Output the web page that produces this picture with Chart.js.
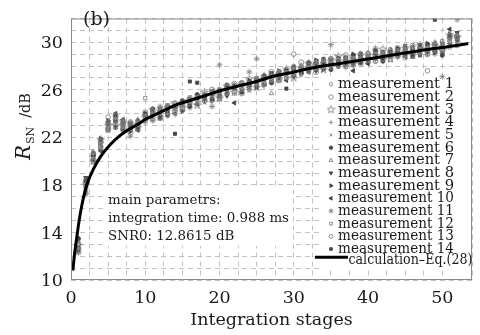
<!DOCTYPE html>
<html>
<head>
<meta charset="utf-8">
<script src="https://cdn.jsdelivr.net/npm/chart.js@4.4.1/dist/chart.umd.min.js"></script>
<style>
    html, body { margin: 0; padding: 0; background: #fff; }
</style>
</head>
<body>
<canvas id="snr-chart" width="480" height="335"></canvas>
<script>
const stages = [1,2,3,4,5,6,7,8,9,10,11,12,13,14,15,16,17,18,19,20,21,22,23,24,25,26,
    27,28,29,30,31,32,33,34,35,36,37,38,39,40,41,42,43,44,45,46,47,48,49,50,51,52];

const meas1 = [13.1,17.6,20.7,21.2,23.3,23.4,22.6,22.9,23.4,23.4, 24.2,24.1,23.8,24.5,25.1,24.8,25.4,25.0,25.6,26.0,
    25.7,26.1,26.6,26.0,26.7,27.0,26.8,27.5,27.0,28.0, 27.7,27.5,28.1,28.5,27.9,28.5,27.9,28.5,29.1,28.8,
    28.4,29.2,29.0,28.8,29.6,29.4,29.1,29.5,29.0,29.8, 30.1,29.7];
const meas2 = [12.4,18.3,20.1,21.6,22.7,23.8,23.1,22.4,23.1,24.1, 23.6,24.2,24.6,24.2,24.3,25.3,25.3,25.1,26.0,25.5,
    26.2,26.5,25.7,26.4,26.9,26.5,27.5,26.8,27.4,27.5, 28.3,28.0,27.5,28.3,28.6,28.1,28.9,28.6,28.2,29.0,
    29.3,28.6,29.2,29.5,29.0,29.7,29.4,29.0,29.8,29.6, 30.5,30.5];
const meas3 = [12.9,18.0,20.0,21.8,23.0,23.0,23.3,23.1,22.8,23.7, 24.3,23.7,24.5,24.8,24.5,25.1,24.7,25.8,25.5,25.3,
    26.3,25.8,26.3,26.9,26.2,27.1,27.0,26.9,27.7,27.0, 27.8,28.2,28.0,27.7,28.4,28.8,28.4,28.2,28.9,28.5,
    28.9,29.4,28.6,29.1,29.5,28.9,29.7,29.4,29.7,29.3, 30.6,30.4];
const meas4 = [12.6,17.3,20.6,21.0,22.9,23.6,22.8,23.3,23.2,23.2, 24.0,24.5,24.0,23.9,24.9,25.0,25.0,25.6,25.0,25.8,
    26.0,25.7,26.5,26.5,26.4,26.3,27.2,27.3,27.1,27.8, 27.3,27.9,28.4,27.8,28.0,28.6,28.5,28.0,28.6,28.9,
    28.5,28.9,29.4,28.7,29.3,29.5,29.0,29.6,29.3,30.0, 29.7,30.6];
const meas5 = [13.2,17.9,20.2,21.5,22.5,23.1,23.4,22.6,23.3,23.8, 23.7,23.9,24.7,24.4,24.4,25.4,25.4,24.9,25.7,26.1,
    25.6,26.3,26.0,25.9,27.0,26.8,26.7,27.6,27.5,27.2, 28.0,27.7,27.7,28.4,28.3,27.9,28.8,28.7,28.4,28.4,
    29.1,29.1,28.7,29.4,28.8,29.2,29.5,28.9,29.9,29.7, 29.9,30.0];
const meas6 = [12.7,18.4,20.5,20.9,23.2,23.3,22.7,23.0,22.7,23.9, 24.4,23.6,24.3,24.6,25.0,24.6,25.6,25.4,25.2,25.9,
    26.4,26.1,25.8,26.7,26.6,27.2,26.6,27.2,27.6,27.7, 27.5,28.3,28.2,28.1,27.7,28.4,28.7,28.9,28.3,28.7,
    29.2,28.4,29.1,29.3,29.2,28.8,29.6,29.8,29.2,28.9, 30.4,30.3];
const meas7 = [13.0,17.5,20.8,21.4,22.6,23.5,23.0,22.7,23.5,23.5, 23.5,24.3,24.4,24.1,24.7,25.2,24.9,25.5,25.8,25.2,
    26.1,26.4,26.2,26.1,26.8,26.6,25.7,27.5,27.0,27.6, 28.1,27.6,28.3,27.9,28.4,28.3,28.1,28.8,28.7,29.1,
    28.6,29.0,28.5,29.2,29.4,29.6,29.1,29.5,30.0,29.4, 30.2,29.8];
const meas8 = [13.4,18.6,20.4,21.7,23.1,22.9,23.1,23.2,22.9,23.8, 23.8,24.4,23.9,24.7,24.8,24.7,25.2,25.2,25.6,25.7,
    25.5,26.2,26.4,26.4,26.3,26.9,27.3,27.0,27.3,27.1, 27.8,28.1,27.6,28.2,28.5,28.0,28.4,28.1,28.8,28.8,
    28.6,29.2,29.1,28.9,28.9,29.3,29.8,29.2,29.5,29.9, 29.8,30.8];
const meas9 = [12.5,18.1,20.7,21.9,23.4,23.7,23.2,22.5,23.2,24.0, 24.1,23.8,24.6,24.5,24.2,25.2,25.5,25.5,25.1,26.0,
    25.8,26.3,25.9,26.8,26.7,26.4,27.1,27.6,27.6,27.5, 27.4,28.2,28.5,27.7,28.3,28.7,28.1,29.0,28.6,28.3,
    29.3,29.0,28.8,29.5,29.5,28.9,29.4,29.9,29.1,29.8, 30.7,30.1];
const meas10 = [13.3,18.2,20.1,21.4,23.3,24.0,23.5,22.9,22.6,23.9, 24.3,24.2,24.1,24.0,25.0,25.2,24.8,25.5,25.9,25.4,
    26.1,24.9,26.4,26.2,26.9,26.9,26.7,27.4,26.8,27.9, 27.7,27.5,28.2,28.5,28.0,28.5,28.5,27.6,28.9,28.2,
    29.0,28.6,29.3,29.2,28.8,29.6,29.1,29.4,29.9,29.7, 31.1,30.6];
const meas11 = [12.3,17.2,20.6,21.1,22.6,23.5,23.3,22.1,23.1,23.5, 23.4,24.6,24.5,24.4,24.8,24.5,25.3,25.7,24.6,28.1,
    25.7,26.2,26.5,27.5,28.6,26.5,27.3,26.9,27.6,27.3, 27.9,27.6,28.3,28.2,29.8,28.6,28.0,28.7,28.3,28.9,
    29.5,28.6,29.1,28.8,29.4,29.0,29.5,29.2,29.8,27.1, 30.3,31.9];
const meas12 = [13.0,17.9,19.9,21.6,22.9,22.8,22.8,23.1,23.2,25.3, 24.1,23.7,24.7,24.9,24.7,25.2,24.8,25.5,25.3,26.0,
    26.2,26.4,25.8,26.6,27.0,26.8,27.1,26.8,27.7,27.7, 27.3,28.0,28.3,27.8,28.6,28.1,28.7,28.5,28.3,29.1,
    28.9,28.7,29.4,29.1,28.9,29.5,29.4,29.0,29.6,30.1, 30.3,30.3];
const meas13 = [12.6,18.0,20.4,21.2,23.7,23.9,22.6,23.3,22.9,23.7, 24.2,24.3,24.0,24.5,24.5,25.0,25.5,25.1,25.7,25.3,
    26.3,25.9,26.6,26.2,26.7,27.1,26.6,27.5,27.4,29.0, 27.8,27.7,27.7,28.3,28.2,28.6,28.0,28.7,28.7,28.7,
    28.4,29.1,29.0,29.4,28.7,29.3,29.5,27.6,29.3,29.3, 29.6,30.4];
const meas14 = [13.5,18.4,20.5,21.8,22.7,23.7,23.3,22.6,23.4,24.0, 24.0,23.9,23.9,22.3,25.1,26.7,26.6,25.4,25.7,25.5,
    26.1,26.3,25.9,26.6,26.2,27.0,27.4,27.4,26.1,27.9, 27.8,28.2,27.8,28.6,28.3,28.0,28.6,28.6,29.0,28.4,
    29.2,29.1,28.8,29.2,29.7,29.5,28.9,29.6,31.9,29.1, 30.5,30.5];

// calculation - Eq.(28)
const calcX = [0.25,0.5,0.8,1.2,1.7,2.3,3,4,5.3,6.5,7.6,9,10,12,14,16,18,20,22.4,25,27,30,33,36,40,44,48,51,53.5];
const calcY = [10.8,12.3,13.7,15.4,17.0,18.3,19.3,20.4,21.4,22.1,22.6,23.1,23.5,24.1,24.7,25.1,25.5,25.9,26.3,26.7,
    27.1,27.5,27.9,28.2,28.6,29.0,29.4,29.65,29.9];

const xTickLabels = [0, 10, 20, 30, 40, 50];
const yTickLabels = [10, 14, 18, 22, 26, 30];
const seriesNames = ['measurement 1','measurement 2','measurement 3','measurement 4','measurement 5',
    'measurement 6','measurement 7','measurement 8','measurement 9','measurement 10','measurement 11',
    'measurement 12','measurement 13','measurement 14'];
const calcName = 'calculation\u2013Eq.(28)';
const noteLines = ['main parametrs:', 'integration time: 0.988 ms', 'SNR0: 12.8615 dB'];

const allMeas = [meas1, meas2, meas3, meas4, meas5, meas6, meas7, meas8, meas9, meas10, meas11, meas12, meas13, meas14];

const SERIF = '"DejaVu Serif", serif';
const OPEN = '#858585';
const DARK = '#454545';

function pentagram() {
    const c = document.createElement('canvas');
    c.width = 9;
    c.height = 9;
    const g = c.getContext('2d');
    g.strokeStyle = OPEN;
    g.lineWidth = 0.9;
    g.beginPath();
    for (let k = 0; k < 10; k++) {
        const r = k % 2 ? 1.7 : 4;
        const a = -Math.PI / 2 + k * Math.PI / 5;
        const px = 4.5 + r * Math.cos(a);
        const py = 4.5 + r * Math.sin(a);
        if (k) g.lineTo(px, py); else g.moveTo(px, py);
    }
    g.closePath();
    g.stroke();
    return c;
}

const markers = [
    { style: 'circle', r: 2, fill: false },
    { style: 'circle', r: 2.6, fill: false },
    { style: pentagram(), r: 4, fill: false },
    { style: 'cross', r: 2.6, fill: false },
    { style: 'crossRot', r: 2.5, fill: false },
    { style: 'circle', r: 2, fill: true },
    { style: 'triangle', r: 2.6, fill: false },
    { style: 'triangle', r: 2.5, fill: true, rot: 180 },
    { style: 'triangle', r: 2.5, fill: true, rot: 90 },
    { style: 'triangle', r: 2.5, fill: true, rot: -90 },
    { style: 'star', r: 3, fill: false },
    { style: 'rect', r: 2.3, fill: false },
    { style: 'circle', r: 2.3, fill: false },
    { style: 'rect', r: 2.2, fill: true }
];

const datasets = allMeas.map((vals, i) => {
    const m = markers[i];
    return {
        type: 'scatter',
        label: seriesNames[i],
        data: stages.map((s, j) => ({ x: s, y: vals[j] })),
        pointStyle: m.style,
        pointRadius: m.r,
        pointRotation: m.rot || 0,
        pointBorderWidth: 0.9,
        pointBorderColor: m.fill ? DARK : OPEN,
        pointBackgroundColor: m.fill ? DARK : 'rgba(255,255,255,0)',
        showLine: false
    };
});

datasets.push({
    type: 'line',
    label: calcName,
    data: calcX.map((x, i) => ({ x: x, y: calcY[i] })),
    borderColor: '#000',
    borderWidth: 3,
    pointRadius: 0,
    cubicInterpolationMode: 'monotone',
    fill: false,
    order: -1
});

const overlayPlugin = {
    id: 'overlay',
    beforeDatasetsDraw(chart) {
        // white boxes behind the legend and the parameter note
        const ctx = chart.ctx;
        ctx.save();
        ctx.fillStyle = '#fff';
        ctx.fillRect(322, 76, 150, 193);
        ctx.fillRect(106, 189, 186, 57);
        ctx.restore();
    },
    afterDraw(chart) {
        const ctx = chart.ctx;
        const area = chart.chartArea;
        ctx.save();

        ctx.strokeStyle = '#8a8a8a';
        ctx.lineWidth = 1;
        ctx.strokeRect(area.left + 0.5, area.top + 0.5, area.right - area.left - 1, area.bottom - area.top - 1);

        ctx.fillStyle = '#1a1a1a';
        ctx.textBaseline = 'alphabetic';
        ctx.textAlign = 'left';

        ctx.font = '19px ' + SERIF;
        ctx.fillText('(b)', 83, 24.5);

        ctx.font = '13.4px ' + SERIF;
        noteLines.forEach((t, i) => ctx.fillText(t, 108, 203.5 + i * 18.3));

        // legend
        const drawPoint = Chart.helpers && Chart.helpers.drawPoint;
        seriesNames.forEach((name, i) => {
            const base = 88.3 + i * 12.67;
            const m = markers[i];
            if (drawPoint) {
                ctx.save();
                ctx.strokeStyle = m.fill ? DARK : OPEN;
                ctx.fillStyle = m.fill ? DARK : 'rgba(255,255,255,0)';
                ctx.lineWidth = 0.9;
                drawPoint(ctx, { pointStyle: m.style, radius: m.r * 0.85, rotation: m.rot || 0, borderWidth: 0.9 }, 331, base - 4);
                ctx.restore();
            }
            ctx.fillStyle = '#1a1a1a';
            ctx.font = '15px ' + SERIF;
            ctx.fillText(name, 338, base, 116);
        });
        const calcBase = 88.3 + 14 * 12.67 - 1.5;
        ctx.strokeStyle = '#000';
        ctx.lineWidth = 3;
        ctx.beginPath();
        ctx.moveTo(315, calcBase - 7);
        ctx.lineTo(348, calcBase - 7);
        ctx.stroke();
        ctx.fillText(calcName, 348.5, calcBase, 124);

        // y axis title: R_SN /dB
        ctx.translate(30, 160);
        ctx.rotate(-Math.PI / 2);
        ctx.font = 'italic 20px ' + SERIF;
        ctx.fillText('R', 0, 0);
        const rw = ctx.measureText('R').width;
        ctx.font = '11px ' + SERIF;
        ctx.fillText('SN', rw + 1, 4);
        ctx.font = '14.5px ' + SERIF;
        const w = ctx.measureText('/dB').width;
        ctx.fillText('/dB', 67 - w, 0);

        ctx.restore();
    }
};

function renderSnrChart() {
    const ctx = document.getElementById('snr-chart').getContext('2d');
    new Chart(ctx, {
        type: 'scatter',
        data: { datasets: datasets },
        options: {
            responsive: false,
            animation: false,
            layout: { padding: { top: 6, right: 6, left: 0, bottom: 0 } },
            scales: {
                x: {
                    type: 'linear',
                    min: 0,
                    max: 54,
                    afterFit: function(scale) { scale.height = 55; },
                    grid: { color: '#c2c2c2', lineWidth: 1, drawTicks: false },
                    border: { display: false, dash: [5, 4] },
                    ticks: {
                        stepSize: 2.5,
                        autoSkip: false,
                        maxRotation: 0,
                        padding: 8,
                        color: '#1a1a1a',
                        font: { family: SERIF, size: 17.5 },
                        callback: function(value) {
                            return xTickLabels.includes(value) ? String(value) : '';
                        }
                    },
                    title: {
                        display: true,
                        text: 'Integration stages',
                        color: '#1a1a1a',
                        font: { family: SERIF, size: 17.5 },
                        padding: { top: 0, bottom: 4 }
                    }
                },
                y: {
                    type: 'linear',
                    min: 10,
                    max: 32,
                    afterFit: function(scale) { scale.width = 71; },
                    grid: { color: '#c2c2c2', lineWidth: 1, drawTicks: false },
                    border: { display: false, dash: [5, 4] },
                    ticks: {
                        stepSize: 1,
                        autoSkip: false,
                        padding: 8,
                        labelOffset: 1.5,
                        color: '#1a1a1a',
                        font: { family: SERIF, size: 17.5 },
                        callback: function(value) {
                            return yTickLabels.includes(value) ? String(value) : '';
                        }
                    }
                }
            },
            plugins: {
                legend: { display: false },
                tooltip: { enabled: false }
            }
        },
        plugins: [overlayPlugin]
    });
}

renderSnrChart();
</script>
</body>
</html>
